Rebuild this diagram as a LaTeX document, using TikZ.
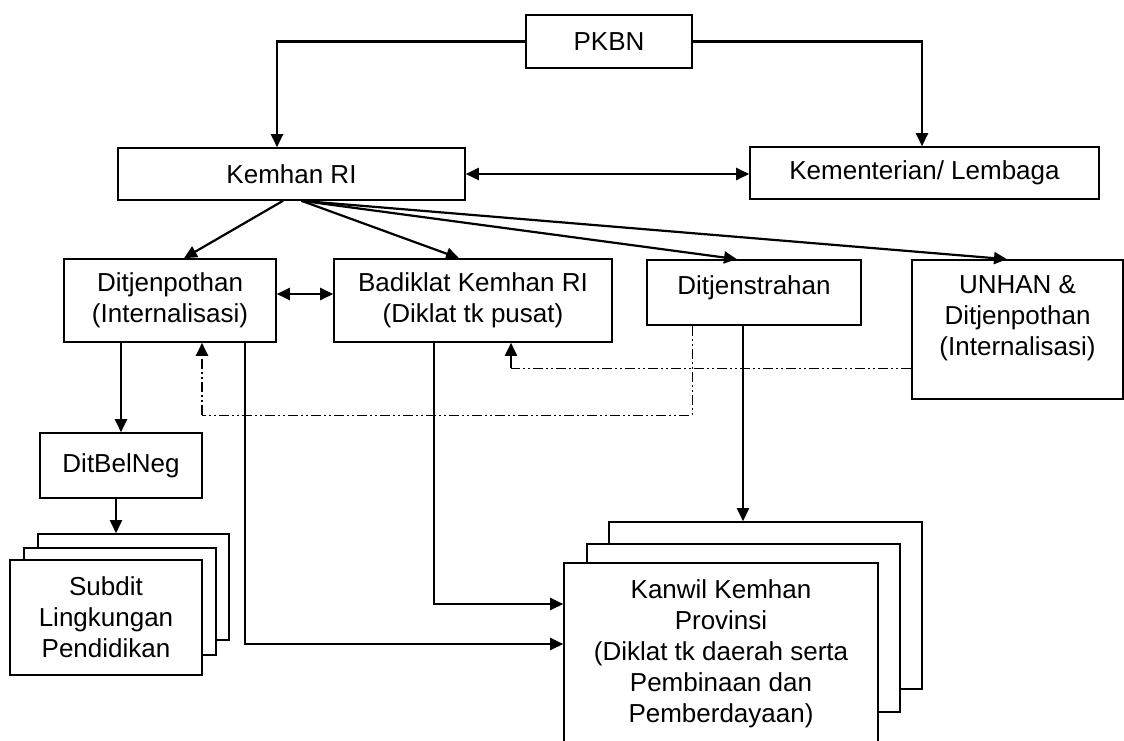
\documentclass[tikz,border=0pt]{standalone}
\usepackage{fontspec}
\setmainfont{Liberation Sans}
\usetikzlibrary{arrows.meta,positioning}

\tikzset{
  box/.style={draw, line width=1.6pt, fill=white, align=center, inner sep=0pt,
    font=\fontsize{26}{31}\selectfont},
  wh/.style 2 args={minimum width=#1pt, minimum height=#2pt},
  link/.style={line width=2.2pt, -{Triangle[length=13pt,width=12pt]}},
  twolink/.style={line width=2.2pt, {Triangle[length=13pt,width=12pt]}-{Triangle[length=13pt,width=12pt]}},
  ddot/.style={line width=1pt, dash pattern=on 10pt off 3pt on 2pt off 3pt on 2pt off 3pt},
}

\begin{document}
\begin{tikzpicture}[x=1pt,y=-1pt]
    \useasboundingbox (0,0) rectangle (1124,740);
    \node [box,wh={166}{53}] (pkbn) at (609,41.5) {PKBN};
    \node [box,wh={347}{52}] (kemhan) at (291.5,174) {Kemhan RI};
    \node [box,wh={349}{52}] (kl) at (924.5,173) {Kementerian/ Lembaga};
    \node [box,wh={212}{83}] (ditpot) at (170,300.5) {Ditjenpothan\\(Internalisasi)};
    \node [box,wh={278}{83}] (badiklat) at (473,300.5) {Badiklat Kemhan RI\\(Diklat tk pusat)};
    \node [box,wh={214}{65}] (ditstra) at (754,292.5) {Ditjenstrahan\\[-16pt]\mbox{}};
    \node [box,wh={211}{139}] (unhan) at (1017.5,329.5) {UNHAN \&\\Ditjenpothan\\(Internalisasi)\\[-2pt]\mbox{}};
    \node [box,wh={162}{65}] (ditbel) at (121,465.5) {DitBelNeg};
    % stacked sheets
    \node [box,wh={191}{106}] (subdit-b2) at (133.5,587) {};
    \node [box,wh={192}{107}] (subdit-b1) at (120,601.5) {};
    \node [box,wh={192}{115}] (subdit) at (106,617.5) {Subdit\\Lingkungan\\Pendidikan};
    \node [box,wh={313}{167}] (kanwil-b2) at (765.5,605.5) {};
    \node [box,wh={313}{168}] (kanwil-b1) at (743.5,628) {};
    \node [box,wh={314}{190}] (kanwil) at (721,658)
      {Kanwil Kemhan\\Provinsi\\(Diklat tk daerah serta\\Pembinaan dan\\Pemberdayaan)\\[-17pt]\mbox{}};

    \draw[link] (pkbn.west) -| ([xshift=-14.5pt]kemhan.north);
    \draw[link] (pkbn.east) -| ([xshift=-2.5pt]kl.north);
    \draw[twolink] (kemhan.east) -- (kemhan.east -| kl.west);
    \draw[link] ([xshift=-8.5pt]kemhan.south) -- ([xshift=14pt]ditpot.north);
    \foreach \dest/\dx in {badiklat/-14,ditstra/-17,unhan/-10.5} {
      \draw[link] ([xshift=10pt]kemhan.south) -- ([xshift=\dx pt]\dest.north);
    }
    \draw[twolink] ([yshift=6.5pt]ditpot.east) -- ([yshift=6.5pt]badiklat.west);
    \draw[link] (ditpot.south -| ditbel.north) -- (ditbel.north);
    \draw[link] ([xshift=-5pt]ditbel.south) -- ([xshift=-5pt]ditbel.south |- subdit-b2.north);
    \draw[link] ([xshift=75pt]ditpot.south) |- ([yshift=14pt]kanwil.west);
    \draw[link] ([xshift=-39pt]badiklat.south) |- ([yshift=54pt]kanwil.west);
    \draw[link] ([xshift=-11pt]ditstra.south) -- ([xshift=-11pt]ditstra.south |- kanwil-b2.north);

    % dash-dot feedback
    \coordinate (turnA) at (202,415);
    \coordinate (turnB) at (511,368);
    \draw[ddot] ([xshift=-62pt]ditstra.south) |- (turnA);
    \draw[ddot,link] (turnA) -- (turnA |- ditpot.south);
    \draw[ddot] ([yshift=-38.5pt]unhan.west) -- (turnB);
    \draw[link] (turnB) -- (turnB |- badiklat.south);
\end{tikzpicture}
\end{document}
